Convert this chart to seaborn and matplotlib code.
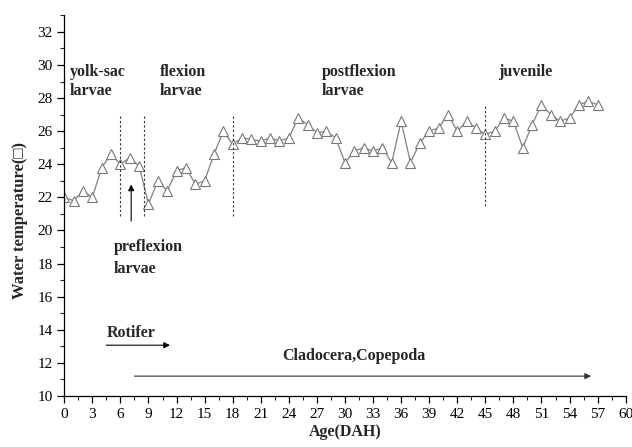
import numpy as np
import pandas as pd
import matplotlib
matplotlib.use('Agg')
import matplotlib.pyplot as plt
import seaborn as sns
from matplotlib.ticker import MultipleLocator

# water temperature per day after hatching
age = list(range(0, 58))
temp = [22.0, 21.8, 22.4, 22.0, 23.8, 24.6, 24.0, 24.4, 23.9, 21.6,
        23.0, 22.4, 23.6, 23.8, 22.8, 23.0, 24.6, 26.0, 25.2, 25.6,
        25.5, 25.4, 25.6, 25.4, 25.6, 26.8, 26.4, 25.9, 26.0, 25.6,
        24.1, 24.8, 25.0, 24.8, 25.0, 24.1, 26.6, 24.1, 25.3, 26.0,
        26.2, 27.0, 26.0, 26.6, 26.2, 25.8, 26.0, 26.8, 26.6, 25.0,
        26.4, 27.6, 27.0, 26.6, 26.8, 27.6, 27.8, 27.6]

stage_bounds = [6, 8.5, 18, 45]
stage_names = ['yolk-sac\nlarvae', 'flexion\nlarvae', 'postflexion\nlarvae', 'juvenile']
stage_x = [0.6, 10.2, 27.5, 46.4]

df = pd.DataFrame({'Age': age, 'Temp': temp})

sns.set_style('ticks')
plt.rcParams['font.family'] = ['Liberation Serif', 'DejaVu Serif', 'DejaVu Sans']

fig = plt.figure(figsize=(6.32, 4.47), dpi=100)
ax = fig.add_axes([0.1017, 0.1141, 0.8883, 0.8516])

sns.lineplot(data=df, x='Age', y='Temp', ax=ax, color='#808080', lw=0.9,
             marker='^', markersize=7.5, markerfacecolor='white',
             markeredgecolor='#787878', markeredgewidth=0.8)

# stage boundaries
for b in stage_bounds:
    top = 27.5 if b == 45 else 27.0
    bot = 21.5 if b == 45 else 20.9
    ax.plot([b, b], [bot, top], color='#333333', lw=0.8, ls=(0, (2, 2)))

for name, xs in zip(stage_names, stage_x):
    ax.text(xs, 30.05, name, fontsize=11.5, fontweight='bold', va='top', ha='left',
            linespacing=1.25)

ax.text(5.25, 19.5, 'preflexion\nlarvae', fontsize=11.5, fontweight='bold',
        va='top', ha='left', linespacing=1.55)
ax.annotate('', xy=(7.15, 22.95), xytext=(7.15, 20.4),
            arrowprops=dict(arrowstyle='-|>', color='black', lw=0.8, mutation_scale=9))

# food
ax.text(4.5, 13.8, 'Rotifer', fontsize=11.5, fontweight='bold', va='center', ha='left')
ax.annotate('', xy=(11.6, 13.07), xytext=(4.2, 13.07),
            arrowprops=dict(arrowstyle='-|>', color='black', lw=0.8, mutation_scale=9))
ax.text(30.9, 12.4, 'Cladocera,Copepoda', fontsize=11.5, fontweight='bold',
        va='center', ha='center')
ax.annotate('', xy=(56.6, 11.2), xytext=(7.2, 11.2),
            arrowprops=dict(arrowstyle='-|>', color='#333333', lw=0.8, mutation_scale=9))

ax.set_xlim(0, 60)
ax.set_ylim(10, 33)
ax.xaxis.set_major_locator(MultipleLocator(3))
ax.xaxis.set_minor_locator(MultipleLocator(1.5))
ax.yaxis.set_minor_locator(MultipleLocator(1))
ax.set_yticks([t for t in range(10, 33, 2)])
ax.tick_params(which='major', direction='out', length=5, width=0.9, labelsize=11, colors='black')
ax.tick_params(which='minor', direction='out', length=3, width=0.8)
sns.despine(ax=ax)
for s in ['left', 'bottom']:
    ax.spines[s].set_linewidth(0.9)
    ax.spines[s].set_color('black')

ax.set_xlabel('Age(DAH)', fontsize=11.5, fontweight='bold', labelpad=2)
ax.set_ylabel('Water temperature(\u25a1)', fontsize=12, fontweight='bold')
ax.yaxis.set_label_coords(-0.064, 0.46)

fig.savefig('out.png', dpi=100)
